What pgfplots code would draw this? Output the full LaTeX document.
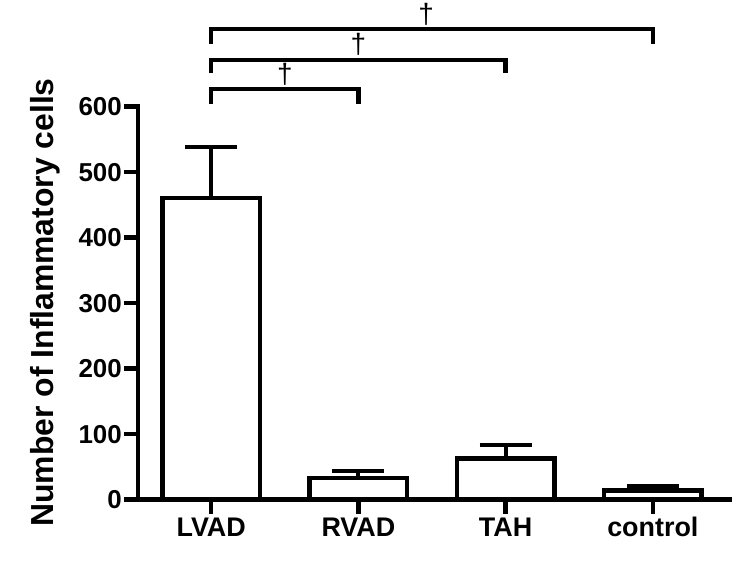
\documentclass[border=0pt]{standalone}
\usepackage{fontspec}
\setmainfont{Liberation Sans}
\usepackage{pgfplots}
\pgfplotsset{compat=1.18}
\pgfplotstableread{
x y e
0 461 77
1 33 10.7
2 63.3 19.5
3 14 7
}\datatable
\begin{document}
\begin{tikzpicture}
\begin{axis}[
  scale only axis, width=592bp, height=393bp,
  xmin=-0.497, xmax=3.524, ymin=0, ymax=600,
  axis x line*=bottom, axis y line*=left,
  axis line style={line width=4.5bp, line cap=rect},
  xtick={0,1,2,3}, xticklabels={LVAD,RVAD,TAH,control},
  ytick={0,100,...,600},
  tick align=outside, major tick length=14bp,
  tick style={line width=4.5bp, black},
  /pgf/number format/assume math mode=true,
  yticklabel style={font=\fontsize{26}{30}\selectfont\bfseries, inner sep=2bp},
  xticklabel style={font=\fontsize{27}{30}\selectfont\bfseries, inner sep=3bp, text height=20bp, text depth=6bp},
  ylabel={Number of Inflammatory cells},
  ylabel style={font=\fontsize{32}{36}\selectfont\bfseries, at={(axis description cs:-0.143,0.502)}, anchor=base},
  clip=false,
]
\addplot[ybar, bar width=0.663, fill=white, draw=black, line width=4.5bp,
  error bars/.cd, y dir=plus, y explicit,
  error bar style={line width=4bp, black},
  error mark options={rotate=90, line width=4bp, mark size=26bp, black}]
  table[x=x, y=y, y error=e] {\datatable};
% significance brackets
\draw[line width=4.5bp] (axis cs:0,604) -- (axis cs:0,627) -- (axis cs:1,627) -- (axis cs:1,604);
\draw[line width=4.5bp] (axis cs:0,651) -- (axis cs:0,671) -- (axis cs:2,671) -- (axis cs:2,651);
\draw[line width=4.5bp] (axis cs:0,696) -- (axis cs:0,718.5) -- (axis cs:3,718.5) -- (axis cs:3,696);
\node[font=\fontsize{28}{30}\selectfont] at (axis cs:0.5,649) {†};
\node[font=\fontsize{28}{30}\selectfont] at (axis cs:1,696) {†};
\node[font=\fontsize{28}{30}\selectfont] at (axis cs:1.46,741) {†};
\coordinate (bl) at (rel axis cs:0,0);
\end{axis}
\useasboundingbox (bl) ++(-138bp,-64bp) rectangle ++(750bp,563bp);
\end{tikzpicture}
\end{document}
